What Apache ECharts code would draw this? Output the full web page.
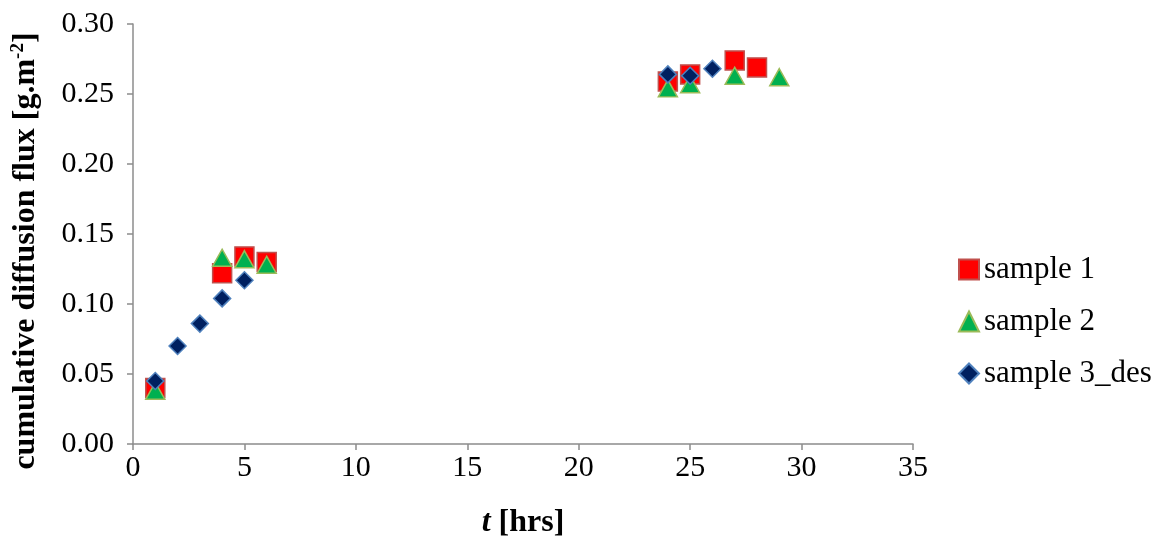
<!DOCTYPE html>
<html>
<head>
<meta charset="utf-8">
<script src="https://cdn.jsdelivr.net/npm/echarts@6/dist/echarts.min.js"></script>
<style>
  html, body { margin: 0; padding: 0; background: #fff; }
  #chart { width: 1169px; height: 546px; }
</style>
</head>
<body>
<div id="chart"></div>
<script>
// Cumulative diffusion flux measured over time for three samples
const seriesNames = ['sample 1', 'sample 2', 'sample 3_des'];

const sample1Hours = [1, 4, 5, 6, 24, 25, 27, 28];
const sample1Flux  = [0.040, 0.122, 0.134, 0.130, 0.259, 0.264, 0.274, 0.269];

const sample2Hours = [1, 4, 5, 6, 24, 25, 27, 29];
const sample2Flux  = [0.038, 0.133, 0.132, 0.128, 0.254, 0.257, 0.263, 0.262];

const sample3Hours = [1, 2, 3, 4, 5, 24, 25, 26];
const sample3Flux  = [0.045, 0.070, 0.086, 0.104, 0.117, 0.264, 0.263, 0.268];

const xTicks = [0, 5, 10, 15, 20, 25, 30, 35];
const yTicks = [0.00, 0.05, 0.10, 0.15, 0.20, 0.25, 0.30];

const pair = (xs, ys) => xs.map((x, i) => [x, ys[i]]);

const serif = '"Liberation Serif", "Times New Roman", serif';
const axisGrey = '#8c8c8c';

const chart = echarts.init(document.getElementById('chart'), null, { renderer: 'canvas' });

chart.setOption({
  animation: false,
  backgroundColor: '#ffffff',
  textStyle: { fontFamily: serif },
  grid: { left: 133, top: 24, width: 780, height: 420, containLabel: false },
  legend: {
    orient: 'vertical',
    left: 953,
    top: 249,
    itemGap: 21,
    itemWidth: 20,
    itemHeight: 20,
    data: seriesNames,
    textStyle: { fontFamily: serif, fontSize: 31, color: '#000' }
  },
  xAxis: {
    type: 'value',
    min: xTicks[0],
    max: xTicks[xTicks.length - 1],
    interval: 5,
    name: '{i|t}{b| [hrs]}',
    nameLocation: 'middle',
    nameGap: 63,
    nameTextStyle: {
      rich: {
        i: { fontFamily: serif, fontSize: 32, fontWeight: 'bold', fontStyle: 'italic', color: '#000' },
        b: { fontFamily: serif, fontSize: 32, fontWeight: 'bold', color: '#000' }
      }
    },
    axisLine: { show: true, lineStyle: { color: axisGrey, width: 1.5 } },
    axisTick: { show: true, inside: false, length: 6, lineStyle: { color: axisGrey, width: 1.5 } },
    axisLabel: { fontFamily: serif, fontSize: 30, color: '#000', margin: 9, formatter: v => String(v) },
    splitLine: { show: false }
  },
  yAxis: {
    type: 'value',
    min: yTicks[0],
    max: yTicks[yTicks.length - 1],
    interval: 0.05,
    name: '{b|cumulative diffusion flux [g.m}{s|-2}{b|]}',
    nameLocation: 'middle',
    nameRotate: 90,
    nameGap: 90,
    nameTextStyle: {
      padding: [0, 34, 0, 0],
      rich: {
        b: { fontFamily: serif, fontSize: 32, fontWeight: 'bold', color: '#000', lineHeight: 34 },
        s: { fontFamily: serif, fontSize: 19, fontWeight: 'bold', color: '#000', verticalAlign: 'top', lineHeight: 34, padding: [0, 0, 12, 0] }
      }
    },
    axisLine: { show: true, lineStyle: { color: axisGrey, width: 1.5 } },
    axisTick: { show: true, inside: false, length: 6, lineStyle: { color: axisGrey, width: 1.5 } },
    axisLabel: { fontFamily: serif, fontSize: 30, color: '#000', margin: 19, formatter: v => v.toFixed(2) },
    splitLine: { show: false }
  },
  series: [
    {
      name: seriesNames[0],
      type: 'scatter',
      symbol: 'rect',
      symbolSize: 19,
      data: pair(sample1Hours, sample1Flux),
      itemStyle: { color: '#ff0000', borderColor: '#c0504d', borderWidth: 1.5, opacity: 1 },
      z: 2
    },
    {
      name: seriesNames[1],
      type: 'scatter',
      symbol: 'triangle',
      symbolSize: [19, 17],
      data: pair(sample2Hours, sample2Flux),
      itemStyle: { color: '#00b050', borderColor: '#9bbb59', borderWidth: 1.5, opacity: 1 },
      z: 3
    },
    {
      name: seriesNames[2],
      type: 'scatter',
      symbol: 'diamond',
      symbolSize: 17,
      data: pair(sample3Hours, sample3Flux),
      itemStyle: { color: '#002060', borderColor: '#4f81bd', borderWidth: 1.5, opacity: 1 },
      z: 4
    }
  ]
});
</script>
</body>
</html>
